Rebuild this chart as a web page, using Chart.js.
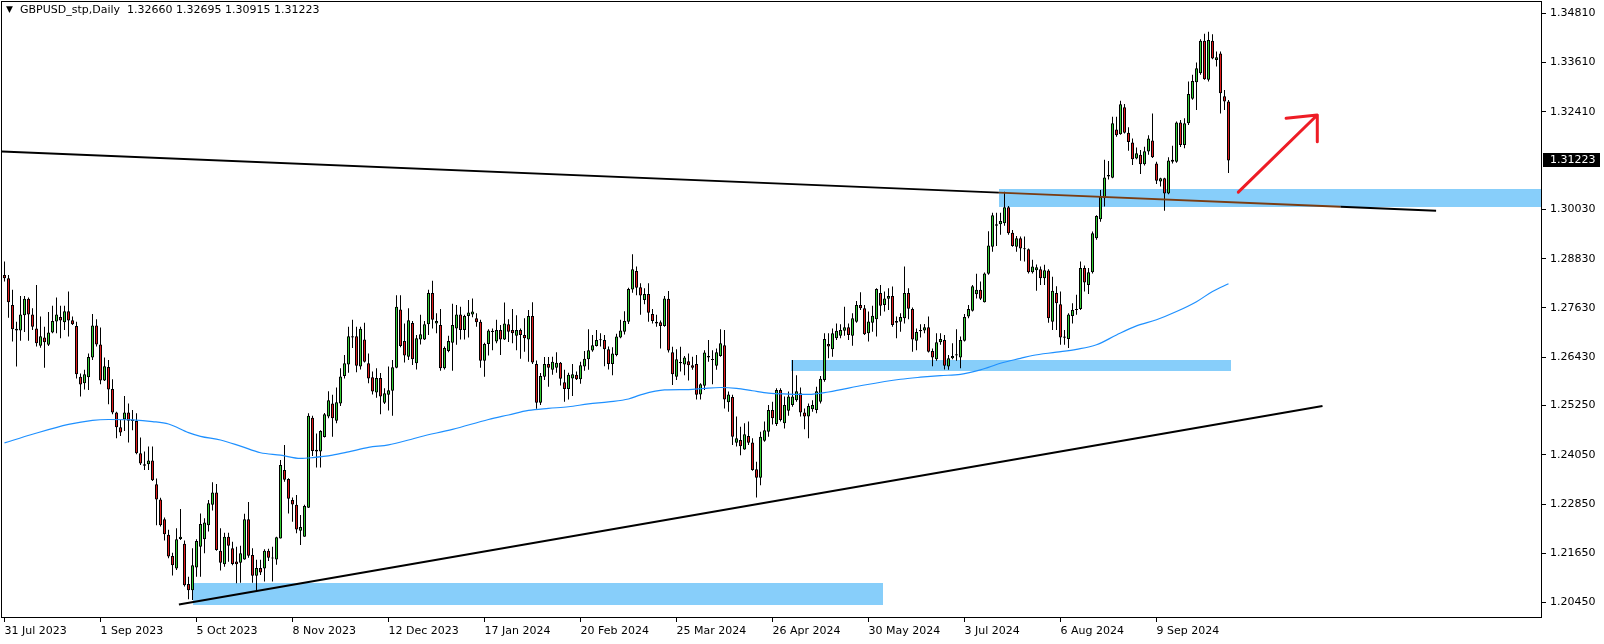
<!DOCTYPE html>
<html>
<head>
<meta charset="utf-8">
<script src="https://cdn.jsdelivr.net/npm/chart.js@4.4.1/dist/chart.umd.min.js"></script>
<style>
html,body{margin:0;padding:0;background:#fff;overflow:hidden}
#wrap{position:relative;width:1604px;height:644px}
canvas{display:block}
</style>
</head>
<body>
<div id="wrap"><canvas id="c" width="1604" height="644"></canvas></div>
<script>
// ---------- DATA ----------
const symbolTitle = "GBPUSD_stp,Daily";
const xTickIndex = [0,24,48,72,96,120,144,168,192,216,240,264,288];
const xTickLabels = ["31 Jul 2023","1 Sep 2023","5 Oct 2023","8 Nov 2023","12 Dec 2023","17 Jan 2024","20 Feb 2024","25 Mar 2024","26 Apr 2024","30 May 2024","3 Jul 2024","6 Aug 2024","9 Sep 2024"];
const yTickValues = [1.34810,1.33610,1.32410,1.30030,1.28830,1.27630,1.26430,1.25250,1.24050,1.22850,1.21650,1.20450];

const opens = [
1.2843,1.2835,1.2770,1.2712,1.2708,1.2745,1.2785,1.2747,1.2713,1.2671,
1.2691,1.2673,1.2703,1.2730,1.2741,1.2728,1.2755,1.2733,1.2719,1.2595,
1.2579,1.2594,1.2642,1.2720,1.2674,1.2586,1.2619,1.2565,1.2508,1.2472,
1.2491,1.2508,1.2487,1.2487,1.2409,1.2382,1.2382,1.2391,1.2333,1.2296,
1.2248,1.2210,1.2158,1.2128,1.2200,1.2188,1.2090,1.2075,1.2130,1.2181,
1.2199,1.2233,1.2283,1.2313,1.2171,1.2138,1.2205,1.2177,1.2145,1.2142,
1.2150,1.2248,1.2161,1.2110,1.2129,1.2128,1.2171,1.2154,1.2150,1.2201,
1.2368,1.2346,1.2295,1.2283,1.2220,1.2205,1.2276,1.2495,1.2417,1.2413,
1.2448,1.2498,1.2530,1.2488,1.2530,1.2597,1.2625,1.2694,1.2694,1.2620,
1.2686,1.2628,1.2594,1.2557,1.2592,1.2532,1.2551,1.2561,1.2617,1.2759,
1.2682,1.2644,1.2726,1.2628,1.2686,1.2686,1.2723,1.2799,1.2725,1.2721,
1.2616,1.2658,1.2678,1.2713,1.2747,1.2709,1.2743,1.2747,1.2738,1.2729,
1.2634,1.2675,1.2704,1.2681,1.2709,1.2686,1.2723,1.2709,1.2695,1.2709,
1.2697,1.2686,1.2743,1.2626,1.2532,1.2595,1.2626,1.2612,1.2617,1.2629,
1.2582,1.2565,1.2591,1.2600,1.2589,1.2620,1.2638,1.2659,1.2670,1.2684,
1.2685,1.2662,1.2626,1.2648,1.2691,1.2705,1.2729,1.2808,1.2853,1.2813,
1.2782,1.2797,1.2748,1.2729,1.2728,1.2719,1.2785,1.2655,1.2595,1.2628,
1.2625,1.2633,1.2623,1.2626,1.2552,1.2573,1.2646,1.2638,1.2622,1.2646,
1.2672,1.2533,1.2546,1.2434,1.2441,1.2418,1.2451,1.2435,1.2370,1.2349,
1.2439,1.2461,1.2514,1.2480,1.2563,1.2482,1.2512,1.2526,1.2538,1.2555,
1.2508,1.2498,1.2516,1.2514,1.2534,1.2587,1.2675,1.2662,1.2689,1.2695,
1.2707,1.2716,1.2695,1.2729,1.2770,1.2762,1.2701,1.2727,1.2735,1.2799,
1.2770,1.2785,1.2792,1.2731,1.2729,1.2738,1.2799,1.2760,1.2683,1.2706,
1.2708,1.2716,1.2658,1.2638,1.2679,1.2685,1.2620,1.2640,1.2647,1.2642,
1.2683,1.2742,1.2756,1.2796,1.2807,1.2777,1.2846,1.2912,1.2963,1.2967,
1.2969,1.3008,1.2946,1.2912,1.2933,1.2908,1.2906,1.2850,1.2855,1.2857,
1.2835,1.2854,1.2729,1.2799,1.2772,1.2693,1.2687,1.2743,1.2758,1.2760,
1.2860,1.2819,1.2850,1.2933,1.2979,1.3030,1.3083,1.3080,1.3198,1.3186,
1.3252,1.3190,1.3166,1.3127,1.3136,1.3113,1.3144,1.3171,1.3115,1.3071,
1.3079,1.3042,1.3119,1.3119,1.3215,1.3160,1.3213,1.3273,1.3313,1.3335,
1.3414,1.3319,1.3414,1.3367,1.3383,1.3279,1.3266];

const highs = [
1.2876,1.2843,1.2807,1.2729,1.2792,1.2792,1.2788,1.2762,1.2819,1.2742,
1.2717,1.2753,1.2768,1.2788,1.2768,1.2768,1.2803,1.2742,1.2729,1.2603,
1.2612,1.2652,1.2748,1.2735,1.2715,1.2642,1.2636,1.2589,1.2510,1.2490,
1.2548,1.2530,1.2514,1.2506,1.2447,1.2413,1.2425,1.2425,1.2347,1.2300,
1.2252,1.2222,1.2166,1.2226,1.2273,1.2196,1.2108,1.2177,1.2199,1.2262,
1.2250,1.2295,1.2338,1.2334,1.2226,1.2215,1.2215,1.2193,1.2181,1.2183,
1.2261,1.2290,1.2177,1.2149,1.2149,1.2175,1.2176,1.2181,1.2205,1.2392,
1.2429,1.2348,1.2301,1.2307,1.2258,1.2283,1.2506,1.2500,1.2457,1.2465,
1.2507,1.2560,1.2551,1.2569,1.2616,1.2648,1.2717,1.2734,1.2717,1.2717,
1.2727,1.2652,1.2608,1.2616,1.2604,1.2567,1.2620,1.2636,1.2794,1.2794,
1.2725,1.2762,1.2731,1.2697,1.2746,1.2731,1.2807,1.2829,1.2750,1.2760,
1.2669,1.2695,1.2773,1.2770,1.2766,1.2746,1.2782,1.2786,1.2750,1.2734,
1.2678,1.2711,1.2713,1.2734,1.2721,1.2776,1.2735,1.2760,1.2745,1.2713,
1.2738,1.2758,1.2777,1.2635,1.2604,1.2643,1.2643,1.2644,1.2655,1.2631,
1.2612,1.2605,1.2626,1.2608,1.2632,1.2658,1.2711,1.2697,1.2709,1.2701,
1.2697,1.2669,1.2667,1.2700,1.2734,1.2755,1.2812,1.2894,1.2864,1.2823,
1.2811,1.2823,1.2760,1.2746,1.2732,1.2792,1.2804,1.2668,1.2662,1.2668,
1.2646,1.2652,1.2644,1.2648,1.2579,1.2660,1.2685,1.2660,1.2664,1.2711,
1.2709,1.2559,1.2551,1.2498,1.2473,1.2482,1.2486,1.2445,1.2388,1.2461,
1.2486,1.2526,1.2534,1.2567,1.2567,1.2547,1.2559,1.2636,1.2599,1.2569,
1.2518,1.2530,1.2538,1.2571,1.2597,1.2701,1.2701,1.2713,1.2725,1.2723,
1.2766,1.2725,1.2750,1.2780,1.2801,1.2770,1.2754,1.2768,1.2811,1.2819,
1.2803,1.2811,1.2815,1.2742,1.2750,1.2864,1.2811,1.2764,1.2713,1.2723,
1.2724,1.2742,1.2664,1.2701,1.2701,1.2697,1.2648,1.2677,1.2711,1.2693,
1.2748,1.2770,1.2819,1.2846,1.2827,1.2849,1.2950,1.2995,1.2995,1.2995,
1.3046,1.3011,1.2953,1.2938,1.2937,1.2937,1.2908,1.2880,1.2869,1.2864,
1.2868,1.2857,1.2839,1.2816,1.2803,1.2709,1.2750,1.2774,1.2795,1.2876,
1.2866,1.2860,1.2949,1.2989,1.3050,1.3124,1.3121,1.3229,1.3229,1.3268,
1.3260,1.3203,1.3176,1.3154,1.3148,1.3156,1.3184,1.3237,1.3119,1.3080,
1.3080,1.3130,1.3158,1.3217,1.3221,1.3225,1.3315,1.3331,1.3361,1.3418,
1.3431,1.3436,1.3430,1.3388,1.3388,1.3294,1.32695];

const lows = [
1.2827,1.2739,1.2681,1.2620,1.2683,1.2704,1.2683,1.2709,1.2669,1.2666,
1.2617,1.2670,1.2701,1.2701,1.2689,1.2709,1.2693,1.2721,1.2591,1.2547,
1.2564,1.2563,1.2636,1.2669,1.2577,1.2585,1.2528,1.2504,1.2445,1.2451,
1.2463,1.2435,1.2465,1.2406,1.2380,1.2368,1.2368,1.2341,1.2233,1.2230,
1.2196,1.2153,1.2111,1.2124,1.2197,1.2084,1.2053,1.2051,1.2108,1.2108,
1.2165,1.2218,1.2269,1.2171,1.2123,1.2132,1.2144,1.2136,1.2092,1.2093,
1.2149,1.2154,1.2093,1.2075,1.2112,1.2096,1.2146,1.2096,1.2137,1.2201,
1.2339,1.2262,1.2242,1.2214,1.2185,1.2205,1.2275,1.2402,1.2374,1.2374,
1.2447,1.2494,1.2449,1.2482,1.2524,1.2591,1.2605,1.2665,1.2606,1.2613,
1.2630,1.2579,1.2552,1.2544,1.2504,1.2529,1.2513,1.2500,1.2616,1.2667,
1.2630,1.2636,1.2624,1.2613,1.2674,1.2685,1.2697,1.2713,1.2701,1.2610,
1.2613,1.2655,1.2610,1.2673,1.2686,1.2686,1.2691,1.2740,1.2717,1.2617,
1.2595,1.2647,1.2660,1.2677,1.2648,1.2685,1.2680,1.2677,1.2660,1.2639,
1.2656,1.2632,1.2626,1.2517,1.2526,1.2587,1.2571,1.2600,1.2605,1.2574,
1.2534,1.2540,1.2548,1.2587,1.2578,1.2610,1.2612,1.2656,1.2669,1.2669,
1.2621,1.2613,1.2599,1.2645,1.2689,1.2698,1.2724,1.2800,1.2794,1.2746,
1.2772,1.2729,1.2725,1.2717,1.2664,1.2717,1.2654,1.2575,1.2587,1.2608,
1.2599,1.2586,1.2612,1.2540,1.2540,1.2563,1.2632,1.2577,1.2612,1.2644,
1.2518,1.2510,1.2429,1.2425,1.2404,1.2417,1.2429,1.2366,1.2301,1.2331,
1.2437,1.2449,1.2479,1.2475,1.2486,1.2469,1.2500,1.2522,1.2534,1.2498,
1.2467,1.2445,1.2510,1.2506,1.2530,1.2583,1.2640,1.2644,1.2685,1.2689,
1.2695,1.2685,1.2671,1.2727,1.2758,1.2697,1.2681,1.2705,1.2693,1.2744,
1.2754,1.2758,1.2717,1.2689,1.2705,1.2725,1.2735,1.2656,1.2660,1.2691,
1.2701,1.2654,1.2621,1.2634,1.2673,1.2613,1.2612,1.2638,1.2634,1.2616,
1.2681,1.2738,1.2754,1.2786,1.2782,1.2776,1.2844,1.2900,1.2914,1.2941,
1.2963,1.2941,1.2912,1.2900,1.2878,1.2876,1.2847,1.2847,1.2805,1.2819,
1.2819,1.2727,1.2709,1.2709,1.2673,1.2673,1.2665,1.2725,1.2746,1.2758,
1.2803,1.2797,1.2847,1.2929,1.2973,1.3010,1.3076,1.3079,1.3180,1.3185,
1.3188,1.3146,1.3111,1.3125,1.3089,1.3110,1.3136,1.3128,1.3065,1.3059,
1.3000,1.3040,1.3115,1.3117,1.3155,1.3152,1.3209,1.3270,1.3245,1.3331,
1.3319,1.3315,1.3369,1.3351,1.3237,1.3245,1.30915];

const closes = [
1.2835,1.2777,1.2711,1.2708,1.2747,1.2785,1.2747,1.2717,1.2677,1.2694,
1.2679,1.2703,1.2731,1.2747,1.2732,1.2755,1.2732,1.2723,1.2601,1.2576,
1.2601,1.2643,1.2720,1.2674,1.2586,1.2621,1.2564,1.2508,1.2472,1.2459,
1.2508,1.2488,1.2491,1.2409,1.2384,1.2378,1.2391,1.2343,1.2296,1.2233,
1.2211,1.2157,1.2136,1.2199,1.2205,1.2087,1.2075,1.2136,1.2195,1.2236,
1.2240,1.2287,1.2313,1.2173,1.2142,1.2205,1.2183,1.2139,1.2138,1.2165,
1.2248,1.2159,1.2110,1.2129,1.2118,1.2171,1.2154,1.2152,1.2204,1.2380,
1.2344,1.2298,1.2284,1.2223,1.2229,1.2280,1.2500,1.2414,1.2413,1.2463,
1.2504,1.2538,1.2494,1.2533,1.2596,1.2628,1.2694,1.2691,1.2622,1.2712,
1.2632,1.2591,1.2559,1.2592,1.2547,1.2555,1.2562,1.2618,1.2766,1.2670,
1.2647,1.2733,1.2638,1.2689,1.2699,1.2723,1.2799,1.2734,1.2731,1.2616,
1.2665,1.2682,1.2721,1.2747,1.2709,1.2743,1.2752,1.2754,1.2728,1.2634,
1.2675,1.2708,1.2707,1.2709,1.2686,1.2725,1.2705,1.2701,1.2709,1.2697,
1.2689,1.2743,1.2630,1.2532,1.2597,1.2626,1.2617,1.2632,1.2629,1.2590,
1.2565,1.2600,1.2601,1.2589,1.2623,1.2639,1.2660,1.2672,1.2685,1.2685,
1.2662,1.2626,1.2652,1.2693,1.2708,1.2731,1.2809,1.2857,1.2812,1.2793,
1.2797,1.2751,1.2731,1.2725,1.2719,1.2786,1.2659,1.2601,1.2638,1.2631,
1.2642,1.2623,1.2617,1.2551,1.2577,1.2654,1.2642,1.2636,1.2655,1.2677,
1.2540,1.2552,1.2449,1.2445,1.2426,1.2455,1.2434,1.2368,1.2349,1.2449,
1.2465,1.2514,1.2494,1.2563,1.2490,1.2526,1.2547,1.2547,1.2560,1.2508,
1.2498,1.2524,1.2526,1.2560,1.2590,1.2687,1.2669,1.2701,1.2707,1.2709,
1.2716,1.2697,1.2738,1.2770,1.2762,1.2699,1.2730,1.2744,1.2809,1.2768,
1.2786,1.2792,1.2721,1.2727,1.2741,1.2799,1.2761,1.2686,1.2704,1.2709,
1.2716,1.2656,1.2642,1.2679,1.2687,1.2622,1.2640,1.2646,1.2650,1.2685,
1.2741,1.2760,1.2816,1.2807,1.2785,1.2847,1.2915,1.2989,1.2967,1.2975,
1.3008,1.2945,1.2914,1.2933,1.2908,1.2906,1.2850,1.2864,1.2862,1.2835,
1.2855,1.2738,1.2805,1.2774,1.2691,1.2690,1.2747,1.2758,1.2760,1.2860,
1.2825,1.2850,1.2945,1.2987,1.3034,1.3081,1.3087,1.3213,1.3184,1.3259,
1.3190,1.3167,1.3125,1.3140,1.3113,1.3145,1.3176,1.3130,1.3073,1.3079,
1.3042,1.3122,1.3124,1.3215,1.3160,1.3213,1.3284,1.3316,1.3347,1.3414,
1.3320,1.3416,1.3371,1.3374,1.3286,1.3266,1.31223];

// moving average at sample bars
const maIndex = [0,7,16,22,26,32,37,41,46,49,54,59,64,69,74,77,82,86,91,96,101,104,112,121,126,131,136,141,146,151,156,159,165,171,175,179,183,187,191,196,201,206,215,224,229,234,239,244,249,254,257,263,268,273,278,283,288,293,298,302,306];
const maValues = [1.2434,1.2455,1.2479,1.2489,1.2491,1.2490,1.2486,1.2480,1.2459,1.2450,1.2441,1.2426,1.2410,1.2404,1.2396,1.2398,1.2404,1.2412,1.2423,1.2429,1.2441,1.2449,1.2467,1.2491,1.2502,1.2513,1.2518,1.2522,1.2529,1.2534,1.2541,1.2551,1.2563,1.2564,1.2567,1.2569,1.2567,1.2561,1.2555,1.2553,1.2552,1.2558,1.2575,1.2589,1.2594,1.2598,1.2601,1.2612,1.2628,1.2640,1.2647,1.2655,1.2662,1.2673,1.2697,1.2719,1.2734,1.2754,1.2778,1.2803,1.2822];

// drawn objects (bar index / price)
const zoneStart  = [47.1, 196.7, 248.6];
const zoneEnd    = [219.5, 306.5, 400];
const zoneTop    = [1.2093, 1.2636, 1.3053];
const zoneBottom = [1.2040, 1.2610, 1.3010];

const downLineX = [-0.625, 248.6, 334, 357.9];
const downLineY = [1.3144, 1.30439, 1.30096, 1.3000];
const upLineX = [43.6, 329.5];
const upLineY = [1.2040, 1.2524];
const arrowX = [308.45, 328.2, 320.4, 324, 328.2, 328.2];
const arrowY = [1.3045, 1.3233, 1.3225, null, 1.3233, 1.3168];

// ---------- CHART ----------
const GREEN = '#32cd32', RED = '#e01b1b', ZONE = '#87cefa';
const FONT = '"DejaVu Sans", sans-serif';
const lastIdx = closes.length - 1;

const wickData = closes.map((c, i) => ({x: i, y: [lows[i], highs[i]]}));
const bodyData = closes.map((c, i) => ({x: i, y: [opens[i], c]}));
const bodyColors = closes.map((c, i) => c >= opens[i] ? GREEN : RED);
const pts = (xs, ys) => xs.map((v, i) => ({x: v, y: ys[i]}));

const overlay = {
  id: 'overlay',
  beforeDraw(chart) {
    const c = chart.ctx;
    c.save(); c.fillStyle = '#fff'; c.fillRect(0, 0, chart.width, chart.height); c.restore();
  },
  beforeDatasetsDraw(chart) {
    const {ctx, chartArea: a, scales: {x, y}} = chart;
    ctx.save();
    ctx.beginPath(); ctx.rect(a.left, a.top, a.right - a.left, a.bottom - a.top); ctx.clip();
    ctx.fillStyle = ZONE;
    for (let k = 0; k < zoneStart.length; k++) {
      const x0 = Math.round(x.getPixelForValue(zoneStart[k]));
      const x1 = Math.round(x.getPixelForValue(zoneEnd[k]));
      const y0 = Math.round(y.getPixelForValue(zoneTop[k]));
      const y1 = Math.round(y.getPixelForValue(zoneBottom[k]));
      ctx.fillRect(x0, y0, x1 - x0, y1 - y0);
    }
    ctx.restore();
  },
  afterDraw(chart) {
    const {ctx, chartArea: a, scales: {y}} = chart;
    ctx.save();
    // frame
    ctx.strokeStyle = '#000'; ctx.lineWidth = 1;
    ctx.strokeRect(a.left - 0.5, a.top - 0.5, a.right - a.left + 1, a.bottom - a.top + 1);
    // header
    ctx.fillStyle = '#000';
    ctx.font = '11px ' + FONT;
    ctx.textBaseline = 'middle';
    ctx.textAlign = 'left';
    ctx.font = '9px ' + FONT;
    ctx.fillText('\u25BC', 6, 10);
    ctx.font = '11px ' + FONT;
    const hdr = symbolTitle + '  ' + opens[lastIdx].toFixed(5) + ' ' + highs[lastIdx].toFixed(5) + ' ' + lows[lastIdx].toFixed(5) + ' ' + closes[lastIdx].toFixed(5);
    ctx.fillText(hdr, 20, 10);
    // current price label
    const py = Math.round(y.getPixelForValue(closes[lastIdx]));
    ctx.fillStyle = '#000';
    ctx.fillRect(a.right + 2, py - 7, 57, 14);
    ctx.fillStyle = '#fff';
    ctx.fillText(closes[lastIdx].toFixed(5), a.right + 9, py + 0.5);
    ctx.restore();
  }
};

new Chart(document.getElementById('c'), {
  type: 'bar',
  data: {
    datasets: [
      {type: 'line', data: pts(arrowX, arrowY), borderColor: '#ee1c25', borderWidth: 3, pointRadius: 0, spanGaps: false, borderCapStyle: 'round', borderJoinStyle: 'round', order: 0, tension: 0},
      {type: 'line', data: pts(downLineX, downLineY), borderColor: '#000', borderWidth: 2, pointRadius: 0, order: 0, tension: 0,
        segment: {borderColor: ctx => ctx.p0DataIndex === 1 ? '#7a3c12' : '#000'}},
      {type: 'line', data: pts(upLineX, upLineY), borderColor: '#000', borderWidth: 2, pointRadius: 0, order: 0, tension: 0},
      {type: 'line', data: pts(maIndex, maValues), borderColor: '#1e90ff', borderWidth: 1.2, pointRadius: 0, order: 1, cubicInterpolationMode: 'monotone'},
      {type: 'bar', data: bodyData, backgroundColor: bodyColors, borderColor: '#000', borderWidth: 1, borderSkipped: false, barThickness: 3, minBarLength: 1, grouped: false, inflateAmount: 0, order: 2},
      {type: 'bar', data: wickData, backgroundColor: '#000', borderWidth: 0, barThickness: 1, grouped: false, inflateAmount: 0, order: 3}
    ]
  },
  options: {
    responsive: false,
    devicePixelRatio: 1,
    animation: false,
    events: [],
    layout: {padding: {left: 2, top: 2, right: 0, bottom: 0}},
    plugins: {legend: {display: false}, tooltip: {enabled: false}},
    scales: {
      x: {
        type: 'linear', position: 'bottom', min: -0.625, max: 384.125, offset: false,
        grid: {offset: false, drawOnChartArea: false, drawTicks: true, tickLength: 5, color: '#000', lineWidth: 1},
        border: {display: false},
        ticks: {autoSkip: false, maxRotation: 0, minRotation: 0, align: 'start', padding: 3, color: '#000',
          font: {family: FONT, size: 11},
          callback: (v, i) => xTickLabels[i]},
        afterBuildTicks: s => { s.ticks = xTickIndex.map(v => ({value: v})); },
        afterFit: s => { s.height = 27; s.paddingLeft = 0; s.paddingRight = 0; }
      },
      y: {
        type: 'linear', position: 'right', min: 1.20096, max: 1.35085,
        grid: {drawOnChartArea: false, drawTicks: true, tickLength: 5, color: '#000', lineWidth: 1},
        border: {display: false},
        ticks: {padding: 4, color: '#000', font: {family: FONT, size: 11},
          callback: v => Number(v).toFixed(5)},
        afterBuildTicks: s => { s.ticks = yTickValues.map(v => ({value: v})); },
        afterFit: s => { s.width = 63; s.paddingTop = 0; s.paddingBottom = 0; }
      }
    }
  },
  plugins: [overlay]
});
</script>
</body>
</html>
